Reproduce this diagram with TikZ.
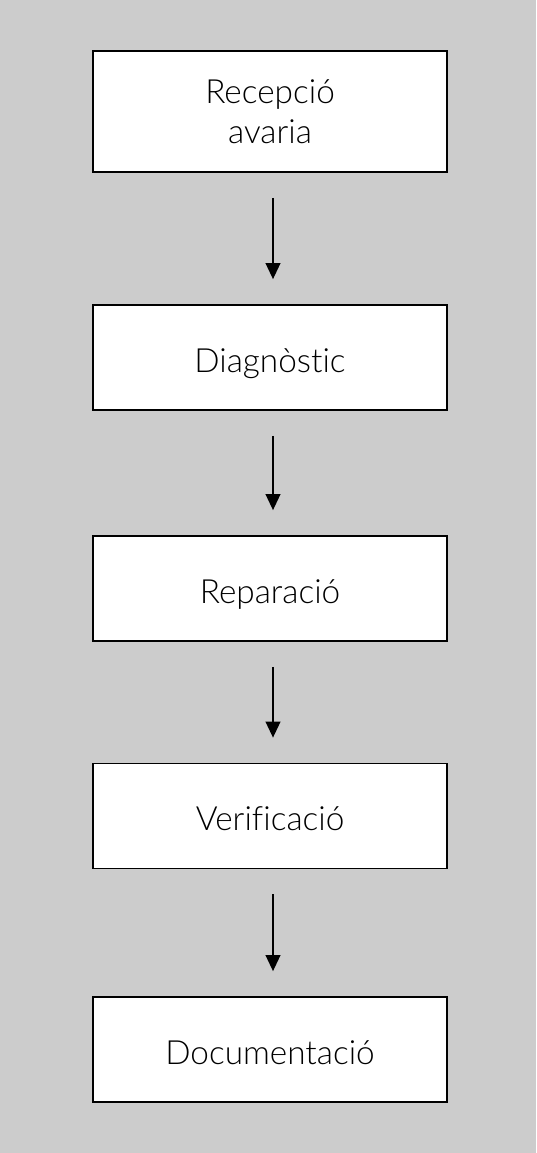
\documentclass[tikz,border=0pt]{standalone}
\usepackage{fontspec}
\setmainfont{Lato}[UprightFont=* Light,Ligatures=NoCommon]
\usetikzlibrary{arrows.meta}
\begin{document}
\begin{tikzpicture}[x=0.75pt,y=-0.75pt,
  step box/.style={draw,rectangle,fill=white,line width=1.3pt,minimum width=265.5pt,minimum height=78.75pt,align=center,font=\fontsize{25}{30}\selectfont},
  one line/.style={text height=21.75pt,text depth=0pt},
  flow/.style={-{Triangle[length=12pt,width=11pt]},line width=1.4pt,shorten <=18.75pt,shorten >=18.75pt}]
  \fill[fill={rgb,255:red,204;green,204;blue,204}] (0,0) rectangle (536,1153);
  \node[step box,minimum height=90.75pt] (reception) at (270,111.5) {Recepció\\avaria};
  \node[step box,one line] (diagnosis) at (270,357.5) {Diagnòstic};
  \node[step box,one line] (repair) at (270,588.5) {Reparació};
  \node[step box,one line] (check) at (270,816) {Verificació};
  \node[step box,one line] (docs) at (270,1049.5) {Documentació};
  \draw[flow] ([xshift=2.25pt]reception.south) -- ([xshift=2.25pt]diagnosis.north);
  \draw[flow] ([xshift=2.25pt]diagnosis.south) -- ([xshift=2.25pt]repair.north);
  \draw[flow] ([xshift=2.25pt]repair.south) -- ([xshift=2.25pt]check.north);
  \draw[flow] ([xshift=2.25pt]check.south) -- ([xshift=2.25pt]docs.north);
\end{tikzpicture}
\end{document}
